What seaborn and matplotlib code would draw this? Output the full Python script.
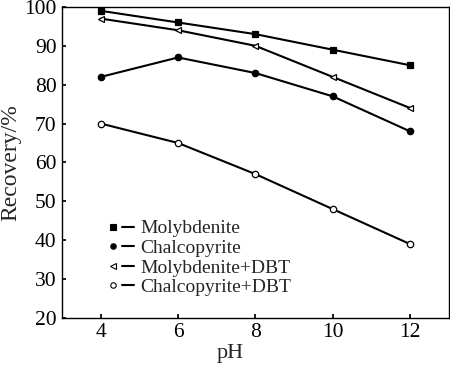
import pandas as pd
import seaborn as sns
import numpy as np
import matplotlib.pyplot as plt
from matplotlib.lines import Line2D
from matplotlib.legend_handler import HandlerTuple

# data
ph = [4, 6, 8, 10, 12]
molybdenite = [99, 96, 93, 89, 85]
chalcopyrite = [82, 87, 83, 77, 68]
molybdenite_dbt = [97, 94, 90, 82, 74]
chalcopyrite_dbt = [70, 65, 57, 48, 39]
names = ['Molybdenite', 'Chalcopyrite', 'Molybdenite+DBT', 'Chalcopyrite+DBT']

sns.set_theme(style='ticks')
plt.rcParams['font.family'] = ['Liberation Serif', 'DejaVu Serif']

data = pd.DataFrame({'pH': ph * 4,
                     'Recovery': molybdenite + chalcopyrite + molybdenite_dbt + chalcopyrite_dbt,
                     'series': np.repeat(names, len(ph))})

fig, ax = plt.subplots(figsize=(4.5, 3.65), dpi=100)
fig.subplots_adjust(left=0.138, right=0.997, top=0.981, bottom=0.129)

styles = {'Molybdenite': dict(marker='s', mfc='black', ms=4.3),
          'Chalcopyrite': dict(marker='o', mfc='black', ms=4.6),
          'Molybdenite+DBT': dict(marker='<', mfc='white', ms=4.8),
          'Chalcopyrite+DBT': dict(marker='o', mfc='white', ms=4.6)}

handles = []
for n in names:
    d = data[data.series == n]
    st = styles[n]
    sns.lineplot(x=d.pH, y=d.Recovery, ax=ax, color='black', lw=1.5,
                 marker=st['marker'], markersize=st['ms'], markerfacecolor=st['mfc'],
                 markeredgecolor='black', markeredgewidth=0.9)
    mk = Line2D([], [], ls='none', marker=st['marker'], markersize=st['ms'] * 0.85,
                markerfacecolor=st['mfc'], markeredgecolor='black', markeredgewidth=0.8)
    ln = Line2D([], [], color='black', lw=1.5)
    handles.append((mk, ln))

ax.set_xlim(3, 13)
ax.set_ylim(20, 100)
ax.set_xticks([4, 6, 8, 10, 12])
ax.set_yticks(range(20, 101, 10))
ax.tick_params(direction='in', labelsize=15.5, length=3, colors='black', pad=4)
ax.set_xlabel('pH', fontsize=16)
ax.xaxis.set_label_coords(0.434, -0.083)
ax.set_ylabel('Recovery/%', fontsize=17, labelpad=2)
for s in ax.spines.values():
    s.set_linewidth(1.0)
    s.set_color('black')

ax.legend(handles, names, loc='lower left', bbox_to_anchor=(0.116, 0.07), frameon=False,
          fontsize=14, handlelength=1.4, handletextpad=0.3, labelspacing=0.1,
          borderpad=0, borderaxespad=0,
          handler_map={tuple: HandlerTuple(ndivide=None, pad=0.1)})

plt.savefig('out.png', dpi=100)
